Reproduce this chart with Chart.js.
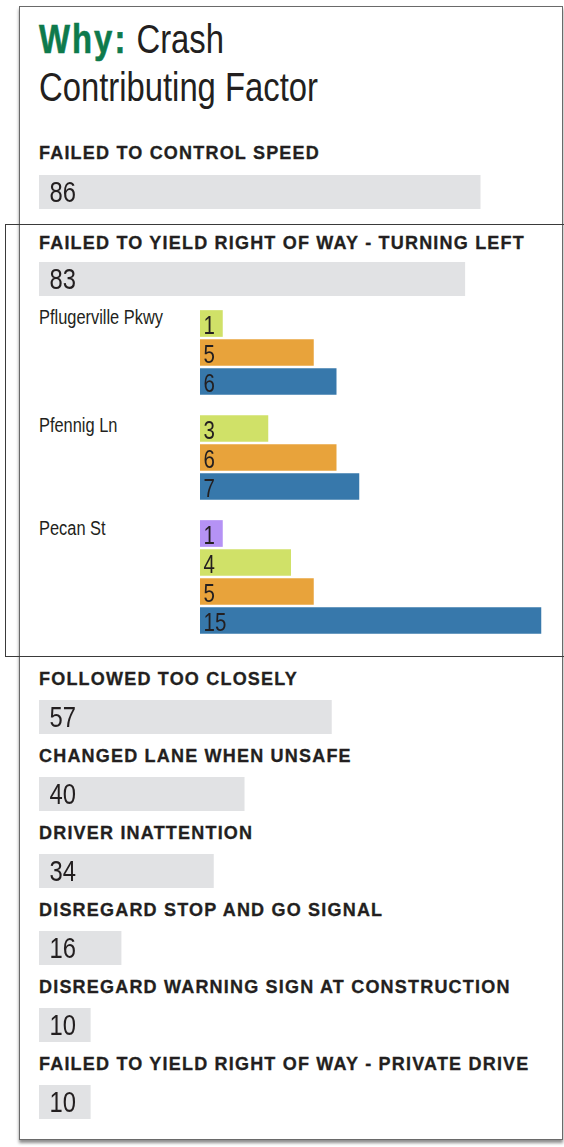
<!DOCTYPE html>
<html>
<head>
<meta charset="utf-8">
<script src="https://cdn.jsdelivr.net/npm/chart.js@4.4.1/dist/chart.umd.min.js"></script>
<style>
  html, body { margin:0; padding:0; width:564px; height:1147px; overflow:hidden; background:#fff; }
  body { position:relative; font-family:"Liberation Sans", Arial, sans-serif; color:#231f20; }
  .abs { position:absolute; }
  .frame { left:19px; top:6px; width:544px; height:1134px; box-sizing:border-box; border:1.5px solid #6a6a6a; box-shadow:0 3px 3px rgba(0,0,0,0.45); }
  .inner { left:5px; top:224px; width:620px; height:433px; box-sizing:border-box; border:1.5px solid #3a3a3a; }
  .title { left:39px; top:16px; font-family:"Liberation Sans", Arial, sans-serif; font-size:40px; line-height:47.7px; white-space:nowrap; color:#231f20; transform:scaleX(0.82); transform-origin:0 0; }
  .title b { color:#0e7a4c; font-weight:700; letter-spacing:2.5px; -webkit-text-stroke:0.6px #0e7a4c; }
  .head { left:39px; font-size:18px; line-height:20px; font-weight:700; letter-spacing:1.2px; white-space:nowrap; color:#231f20; -webkit-text-stroke:0.3px #231f20; }
  .loc { left:39px; font-family:"Liberation Sans", Arial, sans-serif; font-size:20px; line-height:24px; white-space:nowrap; color:#231f20; transform:scaleX(0.82); transform-origin:0 0; }
  canvas { position:absolute; display:block; }
</style>
</head>
<body>
<script>
// ---- data ----
const factorLabels = [
  "FAILED TO CONTROL SPEED",
  "FAILED TO YIELD RIGHT OF WAY - TURNING LEFT",
  "FOLLOWED TOO CLOSELY",
  "CHANGED LANE WHEN UNSAFE",
  "DRIVER INATTENTION",
  "DISREGARD STOP AND GO SIGNAL",
  "DISREGARD WARNING SIGN AT CONSTRUCTION",
  "FAILED TO YIELD RIGHT OF WAY - PRIVATE DRIVE"
];
const factorCounts = [86, 83, 57, 40, 34, 16, 10, 10];

const locations = ["Pflugerville Pkwy", "Pfennig Ln", "Pecan St"];
const purpleSeries = [null, null, 1];
const greenSeries  = [1, 3, 4];
const orangeSeries = [5, 6, 5];
const blueSeries   = [6, 7, 15];

// ---- styling / layout (not data) ----
const seriesColors = ["#b592f5", "#d0e168", "#e8a33b", "#3778ab"];
const mainColor = "#e1e2e4";
const headTops = [143.2, 232.7, 669.4, 746, 823.2, 900.2, 977.2, 1054];
const barTops  = [175, 262, 700, 777, 854, 931, 1008, 1085];
const locTops = [305.4, 412.8, 516.1];
const locCanvasTops = [309, 414, 519];
const SLOT = 29;
const NARROW = 0.82;

const valueLabels = {
  id: 'valueLabels',
  afterDatasetsDraw(chart, args, opts) {
    const ctx = chart.ctx;
    chart.data.datasets.forEach((ds, di) => {
      const meta = chart.getDatasetMeta(di);
      meta.data.forEach((bar, i) => {
        const v = ds.data[i];
        if (v === null || v === undefined) return;
        ctx.save();
        ctx.font = opts.font;
        ctx.fillStyle = opts.color;
        ctx.textBaseline = 'alphabetic';
        ctx.textAlign = 'left';
        ctx.translate(bar.base + opts.dx, bar.y + opts.dy);
        ctx.scale(NARROW, 1);
        ctx.fillText(String(v), 0, 0);
        ctx.restore();
      });
    });
  }
};

function addDiv(cls, text, top, html) {
  const d = document.createElement('div');
  d.className = 'abs ' + cls;
  d.style.top = top + 'px';
  if (html) d.innerHTML = text; else d.textContent = text;
  document.body.appendChild(d);
  return d;
}

function makeBarChart(left, top, width, height, labels, values, colors, max, barPct, labelOpts) {
  const c = document.createElement('canvas');
  c.width = width; c.height = height;
  c.style.left = left + 'px'; c.style.top = top + 'px';
  c.style.width = width + 'px'; c.style.height = height + 'px';
  document.body.appendChild(c);
  return new Chart(c.getContext('2d'), {
    type: 'bar',
    data: {
      labels: labels,
      datasets: [{ data: values, backgroundColor: colors, borderWidth: 0, barPercentage: barPct, categoryPercentage: 1 }]
    },
    options: {
      indexAxis: 'y',
      responsive: false,
      animation: false,
      devicePixelRatio: 1,
      layout: { padding: 0 },
      scales: {
        x: { display: false, min: 0, max: max },
        y: { display: false }
      },
      plugins: {
        legend: { display: false },
        tooltip: { enabled: false },
        valueLabels: labelOpts
      }
    },
    plugins: [valueLabels]
  });
}

// frames
addDiv('frame', '', 6);
addDiv('inner', '', 224);

// title
addDiv('title', '<b>Why:</b> Crash<br>Contributing Factor', 16, true);

// main factor bars
const mainLabelOpts = { font: '29px "Liberation Sans", Arial, sans-serif', color: '#231f20', dx: 10.5, dy: 10.3 };
factorLabels.forEach((lab, i) => {
  addDiv('head', lab, headTops[i]);
  makeBarChart(39, barTops[i], 513, 34, [lab], [factorCounts[i]], [mainColor], 100, 1, mainLabelOpts);
});

// breakdown by location for "turning left"
const subLabelOpts = { font: '25px "Liberation Sans", Arial, sans-serif', color: '#231f20', dx: 3.5, dy: 10.5 };
const allSeries = [purpleSeries, greenSeries, orangeSeries, blueSeries];
locations.forEach((loc, li) => {
  addDiv('loc', loc, locTops[li]);
  const vals = [], cols = [], labs = [];
  allSeries.forEach((s, si) => {
    if (s[li] !== null) { vals.push(s[li]); cols.push(seriesColors[si]); labs.push(loc + ' ' + si); }
  });
  makeBarChart(200, locCanvasTops[li], 364, SLOT * vals.length, labs, vals, cols, 16, 26.7 / 29, subLabelOpts);
});
</script>
</body>
</html>
